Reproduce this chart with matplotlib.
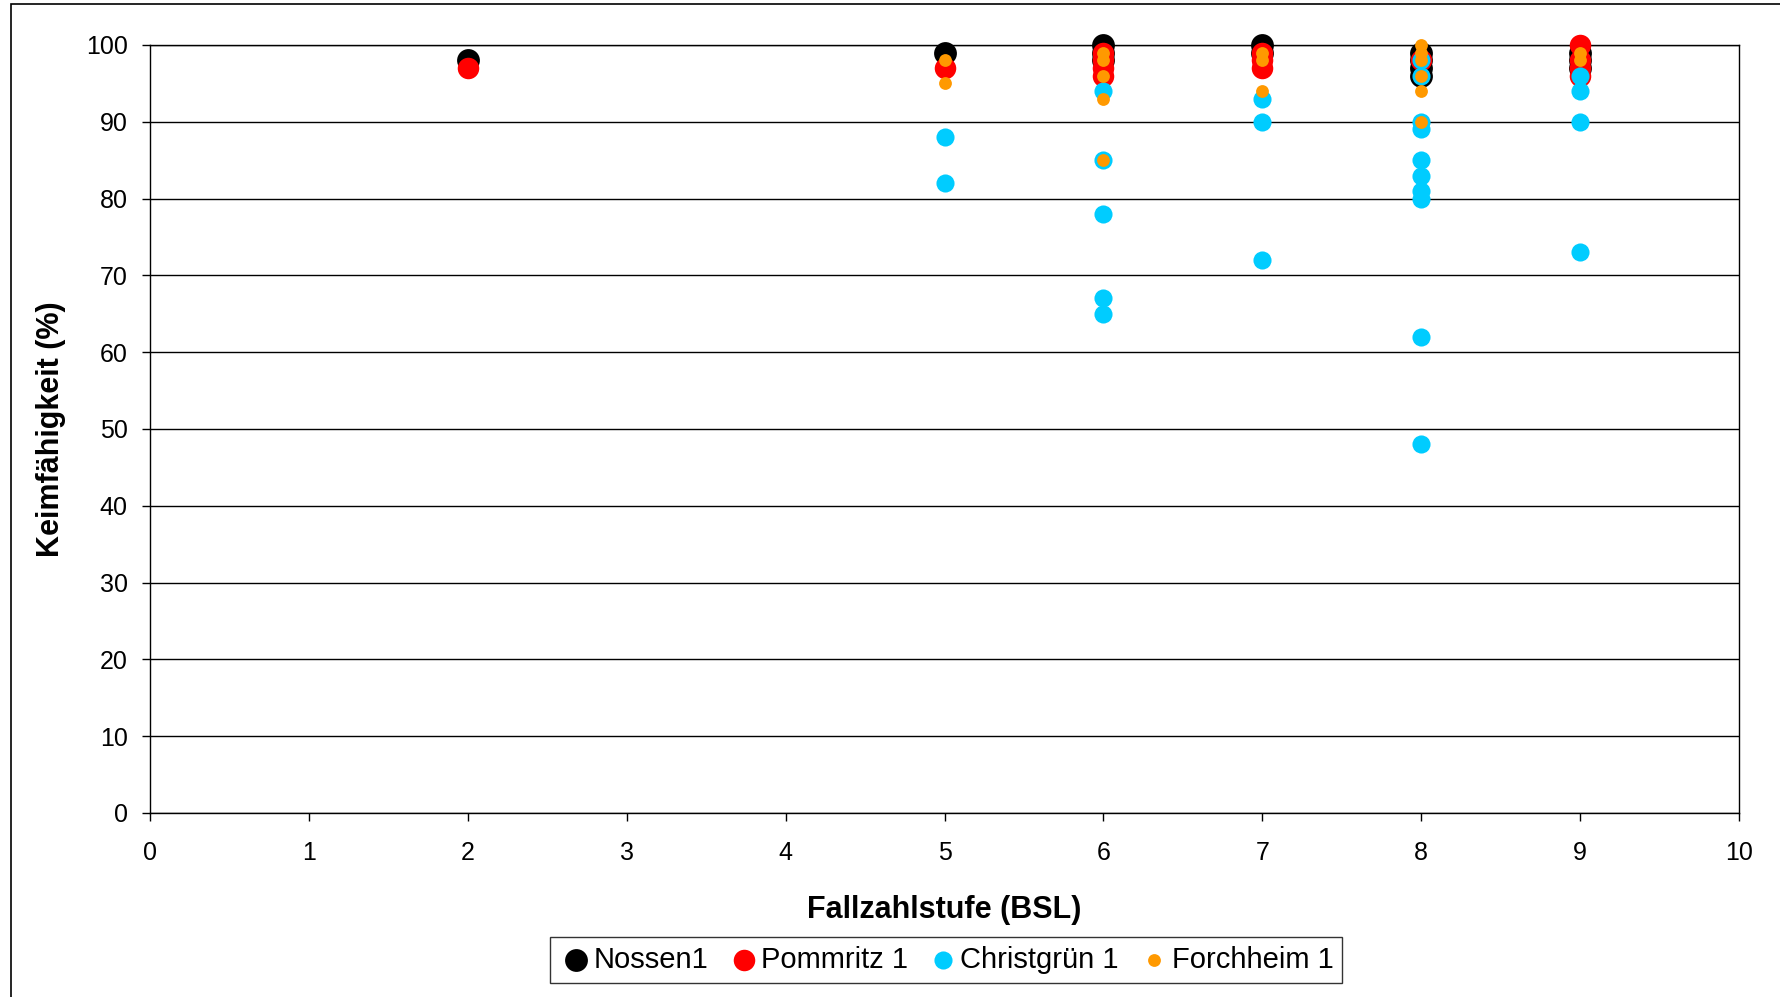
import matplotlib
matplotlib.use('Agg')
import matplotlib.pyplot as plt
from matplotlib.patches import Rectangle

plt.rcParams['font.family'] = ['Liberation Sans', 'DejaVu Sans']

# Nossen1
nossen_x = [2, 5, 6, 6, 6, 7, 7, 8, 8, 8, 8, 9, 9, 9]
nossen_y = [98, 99, 100, 99, 98, 100, 99, 99, 98, 97, 96, 99, 98, 97]
# Pommritz 1
pommritz_x = [2, 5, 6, 6, 6, 6, 7, 7, 7, 8, 9, 9, 9, 9]
pommritz_y = [97, 97, 99, 98, 97, 96, 99, 98, 97, 98, 100, 98, 97, 96]
# Christgrün 1
christ_x = [5, 5, 6, 6, 6, 6, 6, 7, 7, 7, 8, 8, 8, 8, 8, 8, 8, 8, 8, 8, 9, 9, 9, 9]
christ_y = [88, 82, 94, 85, 78, 67, 65, 93, 90, 72, 98, 96, 90, 89, 85, 83, 81, 80, 62, 48, 96, 94, 90, 73]
# Forchheim 1
forch_x = [5, 5, 6, 6, 6, 6, 6, 7, 7, 7, 8, 8, 8, 8, 8, 8, 9, 9]
forch_y = [98, 95, 99, 98, 96, 93, 85, 99, 98, 94, 100, 99, 98, 96, 94, 90, 99, 98]

fig = plt.figure(figsize=(17.8, 9.97), dpi=100)
ax = fig.add_axes([150/1780, 1 - 813/997, (1739-150)/1780, (813-45)/997])

# outer frame of the chart area
fig.patches.append(Rectangle((11/1780, -0.01), 1.1, 1 - 4/997 + 0.01, transform=fig.transFigure,
                             fill=False, edgecolor='black', linewidth=1.2))

ax.scatter(nossen_x, nossen_y, s=270, color='black', label='Nossen1', zorder=3, linewidths=0, clip_on=False)
ax.scatter(pommritz_x, pommritz_y, s=240, color='#ff0000', label='Pommritz 1', zorder=4, linewidths=0, clip_on=False)
ax.scatter(christ_x, christ_y, s=170, color='#00ccff', label='Christgrün 1', zorder=5, linewidths=0, clip_on=False)
ax.scatter(forch_x, forch_y, s=85, color='#ff9900', label='Forchheim 1', zorder=6, linewidths=0, clip_on=False)

ax.set_xlim(0, 10)
ax.set_ylim(0, 100)
ax.set_xticks(range(0, 11))
ax.set_yticks(range(0, 101, 10))
ax.yaxis.grid(True, color='black', linewidth=1)
ax.set_axisbelow(True)
ax.tick_params(axis='both', labelsize=18, direction='out', length=6, width=1)
ax.tick_params(axis='x', pad=14)
ax.tick_params(axis='y', pad=10)
for sp in ax.spines.values():
    sp.set_linewidth(1)
    sp.set_color('black')

ax.set_xlabel('Fallzahlstufe (BSL)', fontsize=22, fontweight='bold', labelpad=22)
ax.set_ylabel('Keimfähigkeit (%)', fontsize=22, fontweight='bold', labelpad=14)

leg = ax.legend(loc='center', bbox_to_anchor=(946/1780, 1 - 960/997), bbox_transform=fig.transFigure,
                ncol=4, fontsize=21, frameon=True, fancybox=False, edgecolor='black',
                handletextpad=0.0, columnspacing=0.6, borderpad=0.3, handlelength=1.2)
leg.get_frame().set_linewidth(1)

fig.savefig('out.png', dpi=100)
